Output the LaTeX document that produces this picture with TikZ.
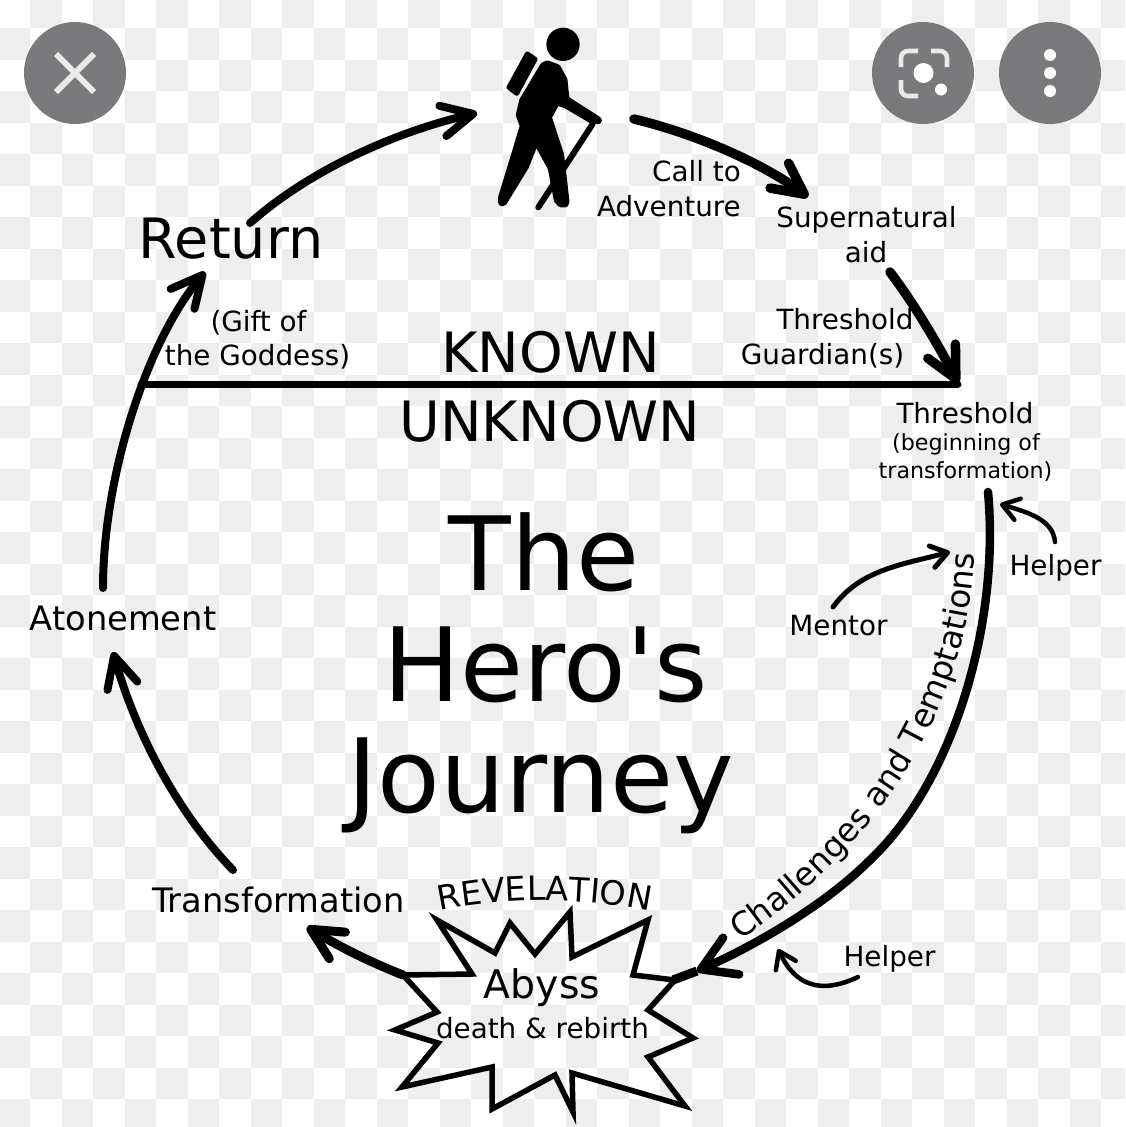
\documentclass[tikz,border=0pt]{standalone}
\usepackage{fontspec}
\setmainfont{DejaVu Sans}
\newfontfamily\plainfam{DejaVu Sans}
\usetikzlibrary{arrows.meta,decorations.text}
\definecolor{checkgrey}{HTML}{EEEEEE}
\definecolor{iconwhite}{HTML}{EAEAEA}
\definecolor{btngrey}{HTML}{737375}
\newcommand{\fsz}[1]{\fontsize{#1}{#1}\selectfont}
\tikzset{
  lbl/.style={inner sep=0pt,anchor=base,text=black,font=\fsz{27.8}},
  lblbig/.style={lbl,font=\fsz{55.6}},
  lblmid/.style={lbl,font=\fsz{33.7}},
  lblsmall/.style={lbl,font=\fsz{22.2}},
  lbltitle/.style={lbl,font=\plainfam\fsz{102.5}},
  heavy/.style={line width=8pt,line cap=round,-{Straight Barb[length=31pt,width=31pt,round]}},
  thin arrow/.style={line width=4.5pt,line cap=round,-{Straight Barb[length=16pt,width=22pt,round]}},
  roundbtn/.style={fill=btngrey,fill opacity=.95,draw=none},
  iconline/.style={draw=iconwhite,line width=4.6pt,rounded corners=7pt},
  icondot/.style={fill=white,draw=none},
}
\begin{document}
\begin{tikzpicture}[x=1pt,y=-1pt]
\useasboundingbox (0,0) rectangle (1125,1127);
\fill[white] (0,0) rectangle (1125,1127);
% checkerboard backdrop
\begin{scope}
\clip (0,0) rectangle (1125,1127);
\foreach \i in {0,...,36}{
  \foreach \j in {0,...,36}{
    \pgfmathtruncatemacro{\odd}{mod(\i+\j,2)}
    \ifnum\odd=1
      \fill[checkgrey] ({30+31.5*(\i-1)},{28+31.5*(\j-1)}) rectangle ++(31.5,31.5);
    \fi
  }
}
\end{scope}
% viewer buttons
\fill[roundbtn] (75,73) circle[radius=51];
\fill[roundbtn] (923,73) circle[radius=51];
\fill[roundbtn] (1050,73) circle[radius=51];
\draw[draw=iconwhite,line width=6pt] (56,54) -- (94,92) (94,54) -- (56,92);
\draw[iconline] (918,51) -- (901,51) -- (901,67);
\draw[iconline] (931,51) -- (947,51) -- (947,67);
\draw[iconline] (901,80) -- (901,96) -- (918,96);
\fill[icondot] (923.5,73) circle[radius=10];
\fill[icondot] (941,89.5) circle[radius=6];
\fill[icondot] (1050,55) circle[radius=6];
\fill[icondot] (1050,73) circle[radius=6];
\fill[icondot] (1050,91) circle[radius=6];
% hiker
\begin{scope}[shift={(470,0)},scale=0.3333]
\fill (279,133) circle[radius=50];
\filldraw[line width=5pt,line join=round] (172,162) -- (195,178) -- (140,280) -- (117,262) -- cycle;
\draw[line width=6pt,line cap=round] (368,372) -- (205,622);
\filldraw[line width=7pt,line join=round] (232,192) -- (262,203) -- (282,240) -- (288,298) -- (385,360) -- (385,362) -- (368,362) -- (290,316) -- (260,305) -- (235,352) -- (272,465) -- (288,605) -- (285,612) -- (273,612) -- (262,600) -- (244,505) -- (198,420) -- (166,500) -- (100,608) -- (95,608) -- (95,592) -- (160,378) -- (148,345) -- (158,302) -- (220,198) -- cycle;
\end{scope}
% abyss star
\node[inner sep=0pt,minimum size=0pt] (abyss) at (545,1015) {};
\draw[line width=5.5pt,line join=miter,miter limit=10] (403,975) -- (437,1012) -- (395,1030) -- (438,1043) -- (402,1087) -- (492,1067) -- (492,1109) -- (555,1075) -- (573,1112) -- (572,1073) -- (685,1106) -- (648,1057) -- (693,1038) -- (648,1010) -- (675,980) -- (633,975) -- (648,920) -- (572,957) -- (570,912) -- (535,954) -- (510,923) -- (495,953) -- (437,920) -- (472,974) -- cycle;
% labels
\node[lblbig] (return) at (231,258) {Return};
\node[lblbig] (known) at (550.5,372) {KNOWN};
\node[lblbig] (unknown) at (550,441) {UNKNOWN};
\node[lbltitle] (the) at (544,590) {The};
\node[lbltitle] (heros) at (546,701) {Hero's};
\node[lbltitle] (journey) at (541,812) {Journey};
\node[lbl,anchor=base east] (call) at (741,181) {Call to};
\node[lbl,anchor=base east] (adventure) at (741,216) {Adventure};
\node[lbl] (super) at (866.5,227) {Supernatural};
\node[lbl] (aid) at (866,262) {aid};
\node[lbl] (guard1) at (845,329) {Threshold};
\node[lbl] (guard2) at (822.5,364) {Guardian(s)};
\node[lbl] (gift1) at (258.5,331) {(Gift of};
\node[lbl] (gift2) at (257.5,365) {the Goddess)};
\node[lbl] (thresh) at (965,423) {Threshold};
\node[lblsmall] (begin) at (966,450) {(beginning of};
\node[lblsmall] (transf) at (965.5,478) {transformation)};
\node[lbl] (helperA) at (1055.5,575) {Helper};
\node[lbl] (mentor) at (838.5,635) {Mentor};
\node[lbl] (helperB) at (889.5,966) {Helper};
\node[lblmid] (atone) at (123,630) {Atonement};
\node[lblmid] (transform) at (278.5,912) {Transformation};
\node[lbl,font=\fsz{39.4}] (abysstxt) at (542,998) {Abyss};
\node[lbl] (death) at (542.5,1038) {death \& rebirth};
% curved labels
\path[decorate,decoration={text along path,text align=center,text={|\fsz{33.5}|REVELATION}}] (434,912) .. controls (500,897) and (590,897) .. (655,912);
\path[decorate,decoration={text along path,text align=center,text={|\fsz{32.8}|Challenges and Temptations}}] (733,945) .. controls (860,862) and (972,720) .. (975,545);
% connector end points
\coordinate (hikerR) at (634,119);
\coordinate (superT) at (808,197);
\coordinate (aidB) at (890,272);
\coordinate (threshT) at (958,383);
\coordinate (lineL) at (141,384);
\coordinate (lineR) at (958,384);
\coordinate (returnS) at (250,223);
\coordinate (hikerL) at (477,113);
\coordinate (atoneS) at (103,588);
\coordinate (returnT) at (205,272);
\coordinate (transS) at (233,870);
\coordinate (atoneT) at (113,652);
\coordinate (starL) at (403,975);
\coordinate (transT) at (307,927);
\coordinate (threshB) at (988,492);
\coordinate (bendC) at (870,860);
\coordinate (starT) at (697,971);
\coordinate (starR) at (673,980);
\coordinate (mentorS) at (833,607);
\coordinate (mentorT) at (950,552);
\coordinate (helpAS) at (1055,542);
\coordinate (helpAT) at (1000,504);
\coordinate (helpBS) at (858,977);
\coordinate (helpBT) at (778,949);
% connectors
\draw[heavy,line width=9.5pt] (hikerR) .. controls (700,135) and (765,165) .. (superT);
\draw[heavy,line width=9.5pt] (aidB) .. controls (915,305) and (940,348) .. (threshT);
\draw[line width=7pt,line cap=round] (lineL) -- (lineR);
\draw[heavy] (returnS) .. controls (310,170) and (395,132) .. (hikerL);
\draw[heavy] (atoneS) .. controls (103,480) and (145,344) .. (returnT);
\draw[heavy] (transS) .. controls (170,805) and (132,720) .. (atoneT);
\draw[heavy,line width=9pt] (starL) .. controls (370,962) and (340,947) .. (transT);
\draw[line width=8.5pt,line cap=round,-{Straight Barb[length=33pt,width=40pt,round]}] (threshB) .. controls (1000,620) and (955,780) .. (bendC) .. controls (820,910) and (745,950) .. (starT);
\draw[line width=9pt] (starT) -- (starR);
\draw[thin arrow,line width=5pt] (mentorS) .. controls (860,570) and (900,565) .. (mentorT);
\draw[thin arrow] (helpAS) .. controls (1053,520) and (1030,513) .. (helpAT);
\draw[thin arrow] (helpBS) .. controls (820,995) and (795,985) .. (helpBT);
\end{tikzpicture}
\end{document}
